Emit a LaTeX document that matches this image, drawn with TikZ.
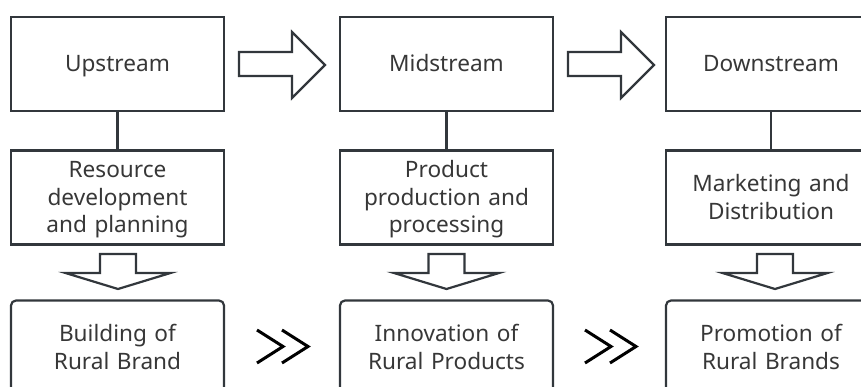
\documentclass[tikz,border=0pt]{standalone}
\usepackage{fontspec}
\setmainfont{Noto Sans}
\definecolor{linec}{RGB}{50,55,60}
\definecolor{textc}{RGB}{55,55,55}
\newcommand{\topstrut}{\rule[-5.75pt]{0pt}{27.5pt}}
\begin{document}
\begin{tikzpicture}[x=1pt,y=-1pt,
  box/.style={draw=linec, line width=2.2pt, minimum width=213pt, minimum height=94pt,
    text width=210pt, align=center, font=\fontsize{22.6}{27.5}\selectfont, text=textc, inner sep=0pt,
    execute at begin node=\topstrut, execute at end node=\topstrut},
  narrowbox/.style={box, minimum width=206pt},
  rbox/.style={rounded corners=5pt},
  blockarrow/.style={draw=linec, line width=2.2pt, fill=white},
  chev/.style={draw=black, line width=3pt, line join=miter}
]
\useasboundingbox (0,0) rectangle (861,387);
\clip (0,0) rectangle (861,387);
% top row
\node[box] (t1) at (117.5,64) {Upstream};
\node[box] (t2) at (446.5,64) {Midstream};
\node[narrowbox] (t3) at (771,64) {Downstream};
% middle row
\node[box] (m1) at (117.5,197.5) {Resource\\development\\and planning};
\node[box] (m2) at (446.5,197.5) {Product\\production and\\processing};
\node[narrowbox] (m3) at (771,197.5) {Marketing and\\Distribution};
% bottom row
\node[box, rbox] (b1) at (117.5,347.5) {Building of\\Rural Brand};
\node[box, rbox] (b2) at (446.5,347.5) {Innovation of\\Rural Products};
\node[narrowbox, rbox] (b3) at (771,347.5) {Promotion of\\Rural Brands};
% connectors
\foreach \i in {1,2,3}{
  \draw[draw=linec, line width=2.2pt] (t\i.south) -- (m\i.north);
}
% right block arrows
\foreach \dx in {0,329}{
  \draw[blockarrow] (239+\dx,52) -- (292+\dx,52) -- (292+\dx,32) -- (325+\dx,65)
    -- (292+\dx,98) -- (292+\dx,76) -- (239+\dx,76) -- cycle;
}
% down block arrows
\foreach \cx in {118,446.5,775}{
  \draw[blockarrow] (\cx-18,254) -- (\cx+18,254) -- (\cx+18,273) -- (\cx+52.5,273)
    -- (\cx,289) -- (\cx-52.5,273) -- (\cx-18,273) -- cycle;
}
% double chevrons
\foreach \dx in {0,328}{
  \draw[chev] (257+\dx,330) -- (283+\dx,346.5) -- (257+\dx,363);
  \draw[chev] (282+\dx,330) -- (308+\dx,346.5) -- (282+\dx,363);
}
\end{tikzpicture}
\end{document}
